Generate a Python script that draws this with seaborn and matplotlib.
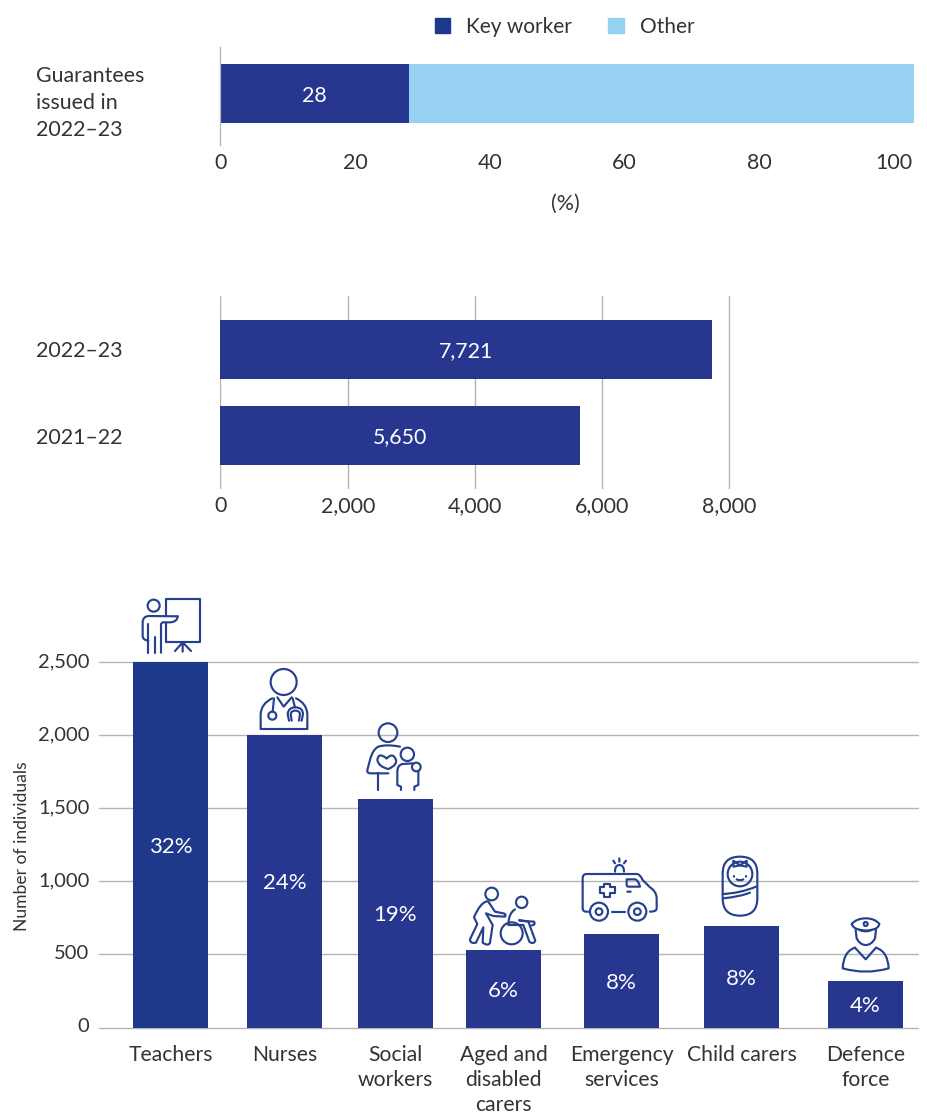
import re

import matplotlib
matplotlib.use("Agg")
import matplotlib.pyplot as plt
import pandas as pd
import seaborn as sns
from matplotlib.patches import Circle, PathPatch, Patch
from matplotlib.path import Path
from matplotlib.transforms import ScaledTranslation

# ---- chart values ----
KEY_WORKER_SHARE = [28]
OTHER_SHARE = [75]
SHARE_ROW = ["Guarantees\nissued in\n2022–23"]
SHARE_TICKS = [0, 20, 40, 60, 80, 100]

YEARS = ["2022–23", "2021–22"]
GUARANTEES = [7721, 5650]
COUNT_TICKS = [0, 2000, 4000, 6000, 8000]

OCCUPATIONS = ["Teachers", "Nurses", "Social\nworkers", "Aged and\ndisabled\ncarers",
               "Emergency\nservices", "Child carers", "Defence\nforce"]
INDIVIDUALS = [2500, 2000, 1562, 527, 637, 692, 315]
PERCENT_LABELS = ["32%", "24%", "19%", "6%", "8%", "8%", "4%"]
INDIVIDUAL_TICKS = [0, 500, 1000, 1500, 2000, 2500]

# ---- layout and styling ----
W, H = 928, 1115
NAVY = "#27378F"
TEACHER_NAVY = "#1E398B"
SKY = "#96D1F1"
GRID = "#B4B4B4"
INK = "#333333"
ICON = "#25408F"
OCCUPATION_CENTRES = [170.5, 284.5, 395.5, 503.5, 621.5, 741.5, 865.5]

sns.set_theme(style="white")
plt.rcParams["font.family"] = ["Lato", "DejaVu Sans"]
plt.rcParams["text.color"] = INK
plt.rcParams["xtick.color"] = INK
plt.rcParams["ytick.color"] = INK
plt.rcParams["axes.labelcolor"] = INK
FS = 15.4
SPACING = 1.45

fig = plt.figure(figsize=(W / 100, H / 100), dpi=100, facecolor="white")


def axes_from_pixels(left, top, right, bottom, **kw):
    return fig.add_axes([left / W, 1 - bottom / H, (right - left) / W, (bottom - top) / H], **kw)


def nudge_up(label, px):
    """Shift a tick label vertically by a number of pixels (negative moves it down)."""
    label.set_transform(label.get_transform() + ScaledTranslation(0, px / 100, fig.dpi_scale_trans))


def left_aligned_rows(ax, pad_px):
    ax.tick_params(axis="y", length=0, pad=pad_px * 0.72, labelsize=FS)
    for lab in ax.get_yticklabels():
        lab.set_ha("left")
        lab.set_linespacing(SPACING)


# ---- share of guarantees, stacked bar ----
ax1 = axes_from_pixels(220.5, 47, 914, 145)
share = pd.DataFrame({"row": SHARE_ROW,
                      "key": KEY_WORKER_SHARE,
                      "total": [k + o for k, o in zip(KEY_WORKER_SHARE, OTHER_SHARE)]})
sns.barplot(data=share, y="row", x="total", color=SKY, saturation=1, width=0.6, linewidth=0, ax=ax1)
sns.barplot(data=share, y="row", x="key", color=NAVY, saturation=1, width=0.6, linewidth=0, ax=ax1)
ax1.set_xlim(0, 103)
ax1.set_ylim(0.5255, -0.4745)
ax1.set_xticks(SHARE_TICKS)
ax1.tick_params(axis="x", length=0, pad=6, labelsize=FS)
ax1.set_ylabel("")
ax1.set_xlabel("(%)", fontsize=FS, labelpad=15, x=(565 - 220.5) / 693.5)
left_aligned_rows(ax1, 184.5)
for lab in ax1.get_yticklabels():
    nudge_up(lab, -4)
sns.despine(ax=ax1, top=True, right=True, bottom=True)
ax1.spines["left"].set_color(GRID)
ax1.spines["left"].set_linewidth(0.9)
ax1.text(KEY_WORKER_SHARE[0] / 2, 0, str(KEY_WORKER_SHARE[0]), color="white",
         ha="center", va="center_baseline", fontsize=FS)
ax1.legend(handles=[Patch(color=TEACHER_NAVY, label="Key worker"), Patch(color=SKY, label="Other")],
           ncols=2, frameon=False, fontsize=15, handlelength=0.75, handleheight=0.75,
           handletextpad=0.75, columnspacing=1.75, loc="center left",
           bbox_to_anchor=(416 / W, 1 - 27 / H), bbox_transform=fig.transFigure)

# ---- number of guarantees by year ----
ax2 = axes_from_pixels(220.5, 296, 760, 489)
sns.barplot(x=GUARANTEES, y=YEARS, color=NAVY, saturation=1, width=0.686, linewidth=0, ax=ax2, zorder=3)
ax2.set_ylim(1.622, -0.622)
ax2.set_xlim(0, 8000 * 539.5 / 509)
ax2.set_xticks(COUNT_TICKS)
ax2.set_xticklabels([f"{t:,}" for t in COUNT_TICKS])
ax2.tick_params(axis="x", length=0, pad=5, labelsize=FS)
ax2.grid(axis="x", color=GRID, linewidth=1.0)
ax2.set_axisbelow(True)
left_aligned_rows(ax2, 184.5)
sns.despine(ax=ax2, left=True, bottom=True)
for i, v in enumerate(GUARANTEES):
    ax2.text(v / 2, i, f"{v:,}", color="white", ha="center", va="center_baseline", fontsize=FS)

# ---- individuals by occupation ----
ax3 = axes_from_pixels(99, 662, 918, 1027.5)
occ = pd.DataFrame({"centre": OCCUPATION_CENTRES, "n": INDIVIDUALS, "occ": OCCUPATIONS})
palette = {o: (TEACHER_NAVY if o == "Teachers" else NAVY) for o in OCCUPATIONS}
sns.barplot(data=occ, x="centre", y="n", hue="occ", palette=palette, dodge=False, legend=False,
            native_scale=True, saturation=1, width=75 / 108, linewidth=0, ax=ax3, zorder=3)
ax3.set_xlim(99, 918)
ax3.set_ylim(0, 2500)
ax3.set_yticks(INDIVIDUAL_TICKS)
ax3.set_yticklabels([f"{t:,}" for t in INDIVIDUAL_TICKS], va="center_baseline")
ax3.set_xticks(OCCUPATION_CENTRES)
ax3.set_xticklabels(OCCUPATIONS, linespacing=1.32, va="top")
ax3.tick_params(axis="x", length=0, labelsize=15.2, pad=12.5)
ax3.tick_params(axis="y", length=0, labelsize=14.5, pad=7)
for lab in ax3.get_yticklabels():
    nudge_up(lab, 2)
ax3.grid(axis="y", color=GRID, linewidth=1.0, clip_on=False)
ax3.set_axisbelow(True)
ax3.set_xlabel("")
ax3.set_ylabel("Number of individuals", fontsize=12.6)
ax3.yaxis.set_label_coords((30 - 99) / 819, 0.495)
sns.despine(ax=ax3, left=True, bottom=True)
for x, v, lab in zip(OCCUPATION_CENTRES, INDIVIDUALS, PERCENT_LABELS):
    ax3.text(x, v / 2, lab, color="white", ha="center", va="center_baseline", fontsize=FS + 0.6, zorder=4)

# ---- occupation pictograms, outlined in a full-figure pixel overlay ----
overlay = fig.add_axes([0, 0, 1, 1], facecolor="none", zorder=5)
overlay.set_xlim(0, W)
overlay.set_ylim(H, 0)
overlay.axis("off")
LW = 1.55


def stroke(d, ox, oy):
    """Stroke an SVG-like M/L/Q/C/Z path given in thirds of a pixel from (ox, oy)."""
    verts, codes = [], []
    tokens = re.findall(r"[MLQCZ]|-?\d+\.?\d*", d)
    i, counts = 0, {"M": (1, Path.MOVETO), "L": (1, Path.LINETO),
                    "Q": (2, Path.CURVE3), "C": (3, Path.CURVE4)}
    while i < len(tokens):
        cmd = tokens[i]
        i += 1
        if cmd == "Z":
            verts.append(verts[-1])
            codes.append(Path.CLOSEPOLY)
            continue
        n, code = counts[cmd]
        for _ in range(n):
            verts.append((ox + float(tokens[i]) / 3, oy + float(tokens[i + 1]) / 3))
            codes.append(code)
            i += 2
    overlay.add_patch(PathPatch(Path(verts, codes), fill=False, edgecolor=ICON, linewidth=LW,
                                capstyle="round", joinstyle="round"))


def ring(cx, cy, r, ox, oy):
    overlay.add_patch(Circle((ox + cx / 3, oy + cy / 3), r / 3, fill=False,
                             edgecolor=ICON, linewidth=LW))


# teacher at a board
ox, oy = 120, 590
ring(101, 47, 18, ox, oy)
stroke("M137 78 L137 27 L240 27 L240 157 L137 157 L137 100", ox, oy)
stroke("M188 157 L188 185 M188 157 L165 183 M188 157 L213 183", ox, oy)
stroke("M173 79 L88 78 Q68 78 68 98 L68 138 Q68 150 85 152", ox, oy)
stroke("M173 79 Q172 96 150 97 L130 97 Q123 97 123 105 L123 188", ox, oy)
stroke("M85 102 L85 188 M104 142 L104 188", ox, oy)

# nurse with stethoscope
ring(491, 276, 39, ox, oy)
stroke("M457 325 Q424 340 422 372 L422 417 L562 417 L562 372 Q560 340 528 325", ox, oy)
stroke("M472 322 L491 350 L515 322", ox, oy)
stroke("M462 325 L458 365", ox, oy)
ring(457, 377, 12, ox, oy)
stroke("M518 325 L525 352", ox, oy)
stroke("M507 392 L503 372 Q505 352 526 352 Q548 352 549 372 L545 392", ox, oy)
stroke("M515 392 L512 372 Q514 362 526 362 Q538 362 540 372 L537 392", ox, oy)

# social worker with child
ring(804, 428, 28, ox, oy)
stroke("M840 470 Q800 462 775 470 Q758 478 750 510 L742 540 Q740 550 752 550 L805 550", ox, oy)
stroke("M775 550 L775 600", ox, oy)
stroke("M800 505 Q775 485 772 510 Q775 530 805 537 Q832 525 828 510 Q820 485 800 505", ox, oy)
ring(862, 493, 20, ox, oy)
stroke("M878 520 L848 522 Q832 525 832 545 L832 585 L843 590 L843 600", ox, oy)
stroke("M895 545 L895 585 L883 590 L883 600", ox, oy)
ring(889, 531, 13, ox, oy)

# carer pushing a wheelchair
ox, oy = 460, 850
ring(95, 132, 19, ox, oy)
ring(185, 157, 17, ox, oy)
stroke("M78 155 Q60 160 42 202 L52 222 L30 268 Q30 282 48 278 L70 232 L68 278 Q85 290 90 278 "
       "L98 225 L78 190 L100 198 L135 200 Q140 192 130 190 L105 185 L85 155 Q82 152 78 155 Z", ox, oy)
ring(155, 250, 33, ox, oy)
stroke("M165 178 Q145 190 145 225 L190 225 L208 275 Q220 285 226 272 L205 215 L178 210", ox, oy)
stroke("M178 212 L222 215 Q228 225 215 226", ox, oy)

# ambulance
stroke("M385 185 Q368 187 368 175 L368 85 Q368 72 380 72 L530 72 Q540 72 548 90 L570 112 "
       "Q590 125 590 145 L590 175 Q590 185 570 185", ox, oy)
ring(417, 185, 27, ox, oy)
ring(417, 185, 10, ox, oy)
ring(532, 185, 27, ox, oy)
ring(532, 185, 10, ox, oy)
stroke("M455 185 L495 185", ox, oy)
stroke("M433 102 L450 102 L450 112 L464 112 L464 129 L450 129 L450 140 L433 140 L433 129 "
       "L420 129 L420 112 L433 112 Z", ox, oy)
stroke("M500 88 L525 88 Q535 90 540 110 L505 110 Q500 110 500 105 Z M502 125 L512 125", ox, oy)
stroke("M465 65 Q465 45 478 45 Q492 45 492 65", ox, oy)
stroke("M460 32 L465 40 M478 25 L478 35 M498 32 L492 40", ox, oy)

# swaddled baby
stroke("M788 70 Q788 20 840 20 Q892 20 892 70 L892 145 Q892 197 840 197 Q788 197 788 145 Z", ox, oy)
ring(840, 72, 37, ox, oy)
stroke("M840 46 L820 32 L820 50 Z M840 46 L860 32 L860 50 Z", ox, oy)
stroke("M822 78 L822 80 M858 78 L858 80 M830 88 Q840 94 850 88", ox, oy)
stroke("M788 132 Q840 130 888 110 M790 145 Q840 140 870 128", ox, oy)

# defence force officer
ox, oy = 800, 900
stroke("M155 72 Q170 55 197 55 Q225 55 238 72 Q235 85 220 88 Q197 95 175 88 Q160 85 155 72 Z", ox, oy)
ring(197, 72, 6, ox, oy)
stroke("M178 90 Q197 98 215 90", ox, oy)
stroke("M167 90 L170 115 Q180 135 197 135 Q215 135 225 115 L228 88", ox, oy)
stroke("M165 143 L197 178 L228 143", ox, oy)
stroke("M165 143 Q130 155 128 205 Q197 225 266 205 Q264 155 228 143", ox, oy)

fig.savefig("out.png", dpi=100, facecolor="white")
